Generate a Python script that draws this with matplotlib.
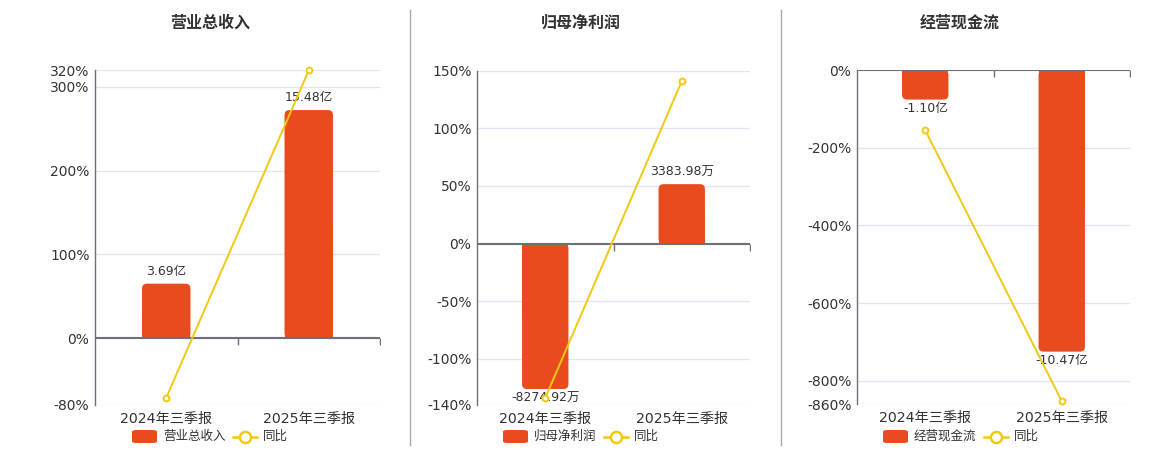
import matplotlib
matplotlib.use("Agg")
import matplotlib.pyplot as plt
from matplotlib.patches import FancyBboxPatch, Rectangle
from matplotlib.lines import Line2D

plt.rcParams['font.family'] = ['DejaVu Sans', 'Noto Sans CJK SC']

# ---------------- data ----------------
categories = ["2024年三季报", "2025年三季报"]

titles = ["营业总收入", "归母净利润", "经营现金流"]
series_names = ["营业总收入", "归母净利润", "经营现金流"]

revenue_values = [3.69, 15.48]          # 亿
revenue_labels = ["3.69亿", "15.48亿"]
revenue_yoy = [-71.3, 319.5]           # %

profit_values = [-8274.92, 3383.98]    # 万
profit_labels = ["-8274.92万", "3383.98万"]
profit_yoy = [-133.9, 140.9]

cash_values = [-1.10, -10.47]          # 亿
cash_labels = ["-1.10亿", "-10.47亿"]
cash_yoy = [-155.0, -851.8]

pct_ticks = [
    [-80, 0, 100, 200, 300, 320],
    [-140, -100, -50, 0, 50, 100, 150],
    [-860, -800, -600, -400, -200, 0],
]
# ---------------- style ----------------
W, H = 1160, 450
BAR_C = "#E84C1E"
LINE_C = "#F2C811"
AXIS_C = "#6E7079"
GRID_C = "#E0E6F1"
TEXT_C = "#333333"

fig = plt.figure(figsize=(W / 100, H / 100), dpi=100)

# pixel boxes (left, top, right, bottom)
boxes = [(95, 70, 380, 405), (477, 70.7, 750, 405), (857, 70, 1130, 404.3)]
pct_lims = [(-80, 320), (-140, 150), (-860, 0)]
title_x = [210, 581, 960]
legend_x = [132, 503, 883]

values_all = [revenue_values, profit_values, cash_values]
labels_all = [revenue_labels, profit_labels, cash_labels]
yoy_all = [revenue_yoy, profit_yoy, cash_yoy]

# bar-axis units per percent point (keeps zero aligned)
bar_per_pct = [18.2 / 268 * 0.8375, 65.6, 0.01445]
bar_lims = [(pct_lims[k][0] * bar_per_pct[k], pct_lims[k][1] * bar_per_pct[k]) for k in range(3)]


def fx(px):
    return px / W


def fy(py):
    return 1 - py / H


for i in range(3):
    l, t, r, b = boxes[i]
    ax_bar = fig.add_axes([fx(l), fy(b), fx(r - l), (b - t) / H])
    ax = ax_bar.twinx()
    ax.set_position([fx(l), fy(b), fx(r - l), (b - t) / H])

    x = list(range(len(categories)))
    ax_bar.set_xlim(-0.5, 1.5)
    ax.set_xlim(-0.5, 1.5)
    ax_bar.set_ylim(*bar_lims[i])
    ax.set_ylim(*pct_lims[i])

    # grid lines at pct ticks (on bar axis, behind bars)
    for v in pct_ticks[i]:
        ax_bar.axhline(v * bar_per_pct[i], color=GRID_C, lw=0.9, zorder=0)

    # bars with rounded ends
    bars = ax_bar.bar(x, values_all[i], width=0.34, color=BAR_C, zorder=2)
    px_x = (r - l) / 2.0
    px_y = (b - t) / (bar_lims[i][1] - bar_lims[i][0])
    rad_px = 5
    for p in bars.patches:
        p.set_visible(False)
        x0, y0 = p.get_x(), p.get_y()
        w, h = p.get_width(), p.get_height()
        ybot, ytop = min(y0, y0 + h), max(y0, y0 + h)
        rx = rad_px / px_x
        aspect = (1 / px_y) / (1 / px_x)
        fb = FancyBboxPatch((x0, ybot), w, ytop - ybot,
                            boxstyle=f"round,pad=0,rounding_size={rx}",
                            mutation_aspect=aspect, fc=BAR_C, ec="none", zorder=2)
        ax_bar.add_patch(fb)
        half = (ytop - ybot) / 2
        if y0 + h >= 0:
            sq = Rectangle((x0, 0), w, half, fc=BAR_C, ec="none", zorder=2)
        else:
            sq = Rectangle((x0, -half), w, half, fc=BAR_C, ec="none", zorder=2)
        ax_bar.add_patch(sq)

    # value labels
    for xi, v, lab in zip(x, values_all[i], labels_all[i]):
        if v >= 0:
            ax_bar.annotate(lab, (xi, v), xytext=(0, 4), textcoords="offset points",
                            ha="center", va="bottom", fontsize=9, color=TEXT_C, zorder=5)
        else:
            ax_bar.annotate(lab, (xi, v), xytext=(0, -2), textcoords="offset points",
                            ha="center", va="top", fontsize=9, color=TEXT_C, zorder=5)

    # zero line + category ticks
    ax.axhline(0, color=AXIS_C, lw=1.5, zorder=3)
    ax.plot([0.5, 1.5], [0, 0], ls="none", marker=3, ms=5, mew=1, color=AXIS_C, zorder=3)

    # yoy line
    ax.plot(x, yoy_all[i], color=LINE_C, lw=1.4, marker="o", ms=4.2,
            mfc="white", mec=LINE_C, mew=1.4, zorder=6, clip_on=False)

    # axes styling
    for a in (ax, ax_bar):
        for s in a.spines.values():
            s.set_visible(False)
    ax_bar.spines["left"].set_visible(True)
    ax_bar.spines["left"].set_color(AXIS_C)
    ax_bar.spines["left"].set_linewidth(1.0)
    ax_bar.set_yticks([])
    ax.yaxis.tick_left()
    ax.set_yticks(pct_ticks[i])
    ax.set_yticklabels([f"{v}%" for v in pct_ticks[i]], fontsize=10, color=TEXT_C)
    ax.tick_params(axis="y", length=0, pad=4)
    ax.set_xticks([])
    ax_bar.set_xticks(x)
    ax_bar.set_xticklabels(categories, fontsize=10.2, color=TEXT_C)
    ax_bar.tick_params(axis="x", length=0, pad=5)

    # title
    fig.text(fx(title_x[i]), fy(23), titles[i], ha="center", va="center",
             fontsize=11.5, fontweight="bold", color=TEXT_C)

    # legend
    lx = legend_x[i]
    fig.patches.append(FancyBboxPatch((fx(lx), fy(443)), fx(25), 13 / H,
                                      boxstyle="round,pad=0,rounding_size=0.004",
                                      transform=fig.transFigure, fc=BAR_C, ec="none"))
    fig.text(fx(lx + 31), fy(436.5), series_names[i], ha="left", va="center",
             fontsize=9, color=TEXT_C)
    lx2 = lx + 101
    fig.lines.append(Line2D([fx(lx2), fx(lx2 + 24)], [fy(436.5), fy(436.5)],
                            transform=fig.transFigure, color=LINE_C, lw=1.8))
    fig.lines.append(Line2D([fx(lx2 + 12)], [fy(436.5)], transform=fig.transFigure,
                            marker="o", ms=8, mfc="white", mec=LINE_C, mew=1.8, ls="none"))
    fig.text(fx(lx2 + 30), fy(436.5), "同比", ha="left", va="center",
             fontsize=9, color=TEXT_C)

# separators
for sx in (410, 781):
    fig.lines.append(Line2D([fx(sx), fx(sx)], [fy(10), fy(445)], transform=fig.transFigure,
                            color="#AAAAAA", lw=1))

fig.savefig("out.png", dpi=100)
